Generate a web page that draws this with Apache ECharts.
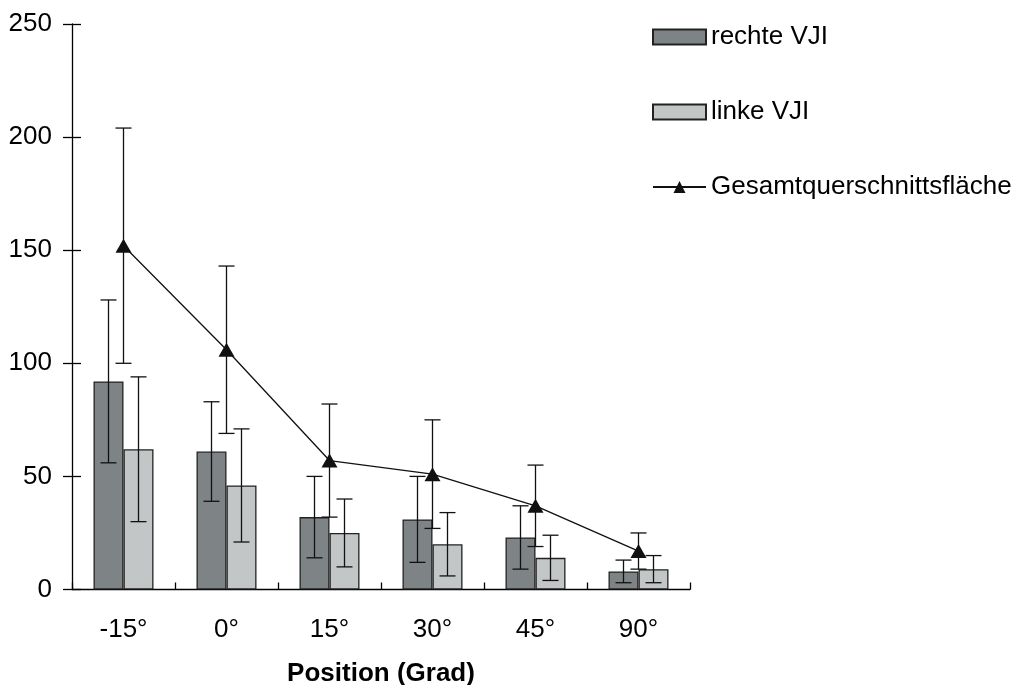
<!DOCTYPE html>
<html>
<head>
<meta charset="utf-8">
<script src="https://cdn.jsdelivr.net/npm/echarts@6/dist/echarts.min.js"></script>
<style>
  html, body { margin: 0; padding: 0; background: #fff; }
  #chart { width: 1017px; height: 685px; }
</style>
</head>
<body>
<div id="chart"></div>
<script>
// Kategorien (x-Achse)
const categories = ['-15°', '0°', '15°', '30°', '45°', '90°'];
// rechte VJI: Mittelwert und Standardabweichung
const rechteMean = [92, 61, 32, 31, 23, 8];
const rechteSd = [36, 22, 18, 19, 14, 5];
// linke VJI
const linkeMean = [62, 46, 25, 20, 14, 9];
const linkeSd = [32, 25, 15, 14, 10, 6];
// Gesamtquerschnittsfläche
const gesamtMean = [152, 106, 57, 51, 37, 17];
const gesamtSd = [52, 37, 25, 24, 18, 8];
// y-Achse
const yTicks = [0, 50, 100, 150, 200, 250];

const font = 'Liberation Sans, Arial, sans-serif';

// Fehlerbalken-Daten: [index, unten, oben]
function errData(mean, sd) {
  return mean.map((m, i) => [i, m - sd[i], m + sd[i]]);
}

// Fehlerbalken zeichnen, dx = Versatz in Pixeln
function errRender(dx) {
  return function (params, api) {
    const lo = api.coord([api.value(0), api.value(1)]);
    const hi = api.coord([api.value(0), api.value(2)]);
    const x = lo[0] + dx;
    const cap = 8;
    const style = { stroke: '#111', lineWidth: 1.3 };
    return {
      type: 'group',
      children: [
        { type: 'line', shape: { x1: x, y1: lo[1], x2: x, y2: hi[1] }, style: style },
        { type: 'line', shape: { x1: x - cap, y1: lo[1], x2: x + cap, y2: lo[1] }, style: style },
        { type: 'line', shape: { x1: x - cap, y1: hi[1], x2: x + cap, y2: hi[1] }, style: style }
      ]
    };
  };
}

const chart = echarts.init(document.getElementById('chart'));
chart.setOption({
  animation: false,
  textStyle: { fontFamily: font },
  grid: { left: 72, right: 327, top: 24, bottom: 95.5, containLabel: false, outerBoundsMode: 'none' },
  legend: {
    orient: 'vertical',
    left: 647,
    top: 17,
    itemWidth: 53,
    itemHeight: 15,
    itemGap: 45,
    textStyle: { fontSize: 26, color: '#000', fontFamily: font, lineHeight: 30 },
    data: [
      { name: 'rechte VJI', icon: 'rect' },
      { name: 'linke VJI', icon: 'rect' },
      { name: 'Gesamtquerschnittsfläche' }
    ]
  },
  xAxis: [
    {
      type: 'category',
      data: categories,
      axisLine: { lineStyle: { color: '#000', width: 1.3 } },
      axisTick: { length: 8, lineStyle: { color: '#000', width: 1.3 } },
      axisLabel: { fontSize: 26, color: '#000', margin: 27, fontFamily: font },
      name: 'Position (Grad)',
      nameLocation: 'middle',
      nameGap: 71,
      nameTextStyle: { fontSize: 26, fontWeight: 'bold', color: '#000', fontFamily: font }
    },
    {
      // zweite Achse nur für die nach innen zeigenden Striche
      type: 'category',
      data: categories,
      position: 'bottom',
      offset: 0,
      axisLine: { show: false },
      axisTick: { show: true, inside: true, length: 7, lineStyle: { color: '#000', width: 1.3 } },
      axisLabel: { show: false }
    }
  ],
  yAxis: [
    {
      type: 'value',
      min: yTicks[0],
      max: yTicks[yTicks.length - 1],
      interval: 50,
      splitLine: { show: false },
      axisLine: { show: true, lineStyle: { color: '#000', width: 1.3 } },
      axisTick: { show: true, length: 9, lineStyle: { color: '#000', width: 1.3 } },
      axisLabel: { fontSize: 26, color: '#000', margin: 20, fontFamily: font }
    },
    {
      type: 'value',
      position: 'left',
      offset: 0,
      min: yTicks[0],
      max: yTicks[yTicks.length - 1],
      interval: 50,
      splitLine: { show: false },
      axisLine: { show: false },
      axisTick: { show: true, inside: true, length: 9, lineStyle: { color: '#000', width: 1.3 } },
      axisLabel: { show: false }
    }
  ],
  series: [
    {
      name: 'rechte VJI',
      type: 'bar',
      data: rechteMean,
      barWidth: 30,
      barGap: '0%',
      itemStyle: { color: '#7e8486', borderColor: '#222', borderWidth: 1.3 }
    },
    {
      name: 'linke VJI',
      type: 'bar',
      data: linkeMean,
      barWidth: 30,
      barGap: '0%',
      itemStyle: { color: '#c3c6c7', borderColor: '#222', borderWidth: 1.3 }
    },
    {
      type: 'custom',
      data: errData(rechteMean, rechteSd),
      renderItem: errRender(-15),
      encode: { x: 0, y: [1, 2] },
      z: 3
    },
    {
      type: 'custom',
      data: errData(linkeMean, linkeSd),
      renderItem: errRender(15),
      encode: { x: 0, y: [1, 2] },
      z: 3
    },
    {
      type: 'custom',
      xAxisIndex: 1,
      yAxisIndex: 1,
      data: errData(gesamtMean, gesamtSd),
      renderItem: errRender(0),
      encode: { x: 0, y: [1, 2] },
      z: 3
    },
    {
      name: 'Gesamtquerschnittsfläche',
      type: 'line',
      data: gesamtMean,
      symbol: 'triangle',
      symbolSize: [16, 14],
      lineStyle: { color: '#111', width: 1.3 },
      itemStyle: { color: '#111' },
      z: 4
    }
  ]
});
</script>
</body>
</html>
